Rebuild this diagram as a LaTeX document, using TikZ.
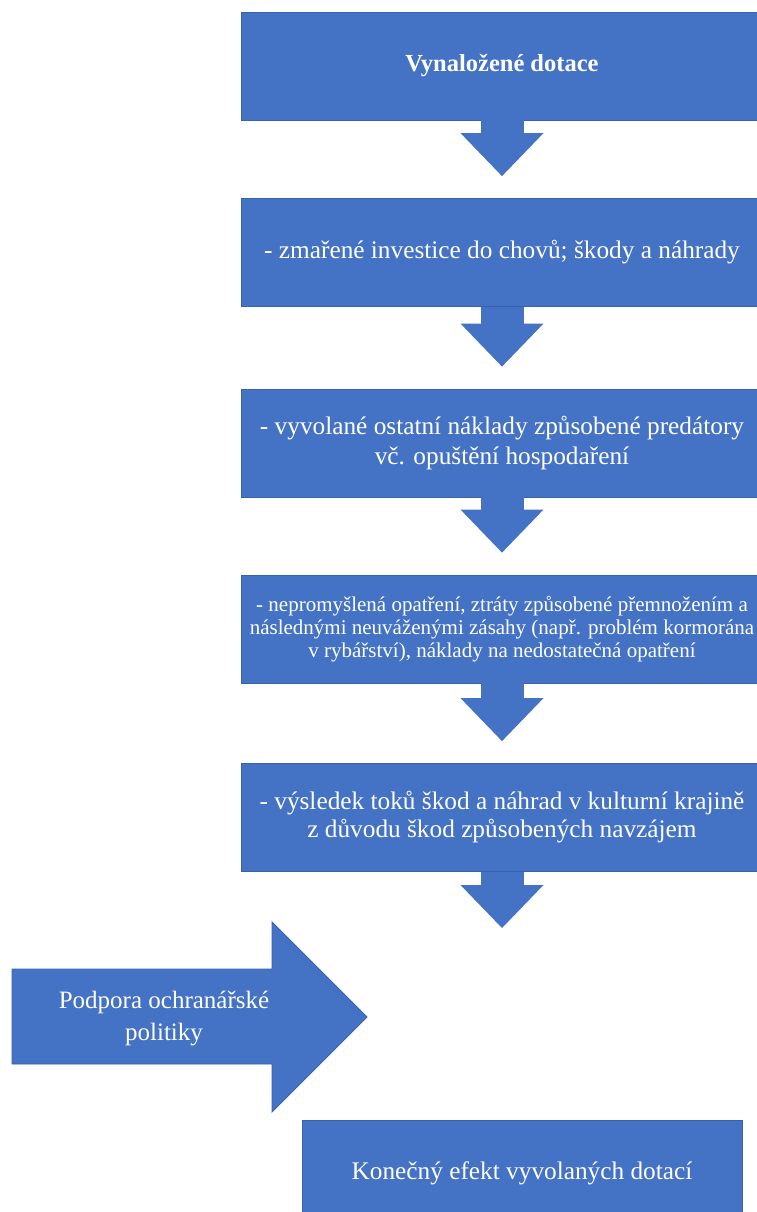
\documentclass[tikz,border=0pt]{standalone}
\usepackage{fontspec}
\setmainfont{Liberation Serif}
\usetikzlibrary{arrows.meta}
\definecolor{boxblue}{HTML}{4472C4}
\definecolor{boxedge}{HTML}{3A62AC}
\begin{document}
\begin{tikzpicture}[x=1pt, y=-1pt,
		b/.style = {rectangle, draw=boxedge, fill=boxblue, line width=0.8pt, text=white, minimum width=522, minimum height=108, align=center, font=\fontsize{25.3}{30}\selectfont},
		t/.style = {text=white, align=center, font=\fontsize{25}{32}\selectfont},
		blk/.style = {fill=boxblue, draw=boxedge, line width=0.8pt},
		r/.style = {-{Triangle[width=83pt 0, length=43pt 0, line width=0pt 0 0]}, line width=43pt, draw=boxblue, shorten >=22pt}
		]
		\clip (0,0) rectangle (757,1212);
		
		%Nodes
		\node[b, font=\bfseries\fontsize{24.5}{28}\selectfont]	(dot)	at	(502, 66)	{Vynaložené dotace};
		\node[b]	(inv)	at	(502, 252.5)	{- zmařené investice do chovů; škody a náhrady};
		\node[b]	(nakl)	at	(502, 443)	{- vyvolané ostatní náklady způsobené predátory\\vč. opuštění hospodaření};
		\node[b, font=\fontsize{21}{23}\selectfont]	(opat)	at	(502, 629)	{- nepromyšlená opatření, ztráty způsobené přemnožením a\\následnými neuváženými zásahy (např. problém kormorána\\v rybářství), náklady na nedostatečná opatření};
		\node[b, font=\fontsize{25.3}{28}\selectfont]	(tok)	at	(502, 817.5)	{- výsledek toků škod a náhrad v kulturní krajině\\z důvodu škod způsobených navzájem};
		\node[b, minimum width=440, minimum height=106]	(efekt)	at	(522, 1173)	{Konečný efekt vyvolaných dotací};
		\coordinate	(konec)	at	(502, 928);
		
		%Side arrow
		\draw[blk]	(12, 969) -- (272, 969) -- (272, 922) -- (367, 1017) -- (272, 1112) -- (272, 1064) -- (12, 1064) -- cycle;
		\node[t]	(pol)	at	(164, 1018)	{Podpora ochranářské\\politiky};
		
		%Lines
		\draw[r]	(dot)	--	(inv);
		\draw[r]	(inv)	--	(nakl);
		\draw[r]	(nakl)	--	(opat);
		\draw[r]	(opat)	--	(tok);
		\draw[r, shorten >=0pt]	(tok)	--	(konec);
	\end{tikzpicture}
\end{document}
